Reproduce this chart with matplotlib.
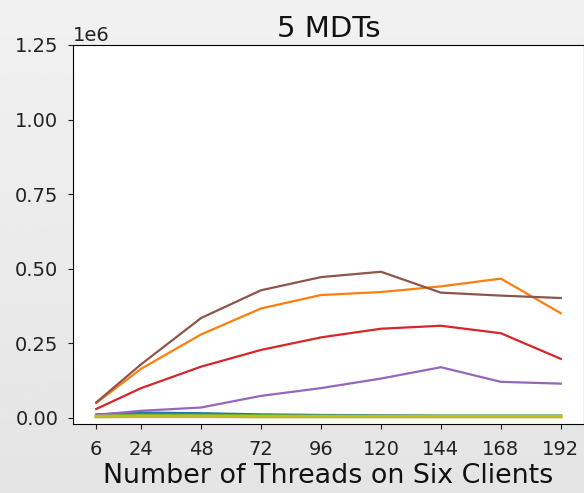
import numpy as np
import matplotlib
matplotlib.use("Agg")
import matplotlib.pyplot as plt

threads = [6, 24, 48, 72, 96, 120, 144, 168, 192]

# one series per run, tab10 colour order
s0 = [0.012, 0.018, 0.016, 0.012, 0.010, 0.009, 0.008, 0.008, 0.008]
s1 = [0.050, 0.165, 0.280, 0.367, 0.412, 0.422, 0.441, 0.467, 0.351]
s2 = [0.010, 0.013, 0.012, 0.009, 0.007, 0.006, 0.006, 0.006, 0.006]
s3 = [0.030, 0.100, 0.172, 0.228, 0.270, 0.299, 0.309, 0.284, 0.198]
s4 = [0.010, 0.024, 0.035, 0.074, 0.100, 0.132, 0.170, 0.121, 0.115]
s5 = [0.052, 0.180, 0.335, 0.428, 0.472, 0.490, 0.420, 0.410, 0.402]
s6 = [0.004, 0.005, 0.005, 0.004, 0.004, 0.004, 0.004, 0.004, 0.004]
s7 = [0.004, 0.004, 0.004, 0.004, 0.004, 0.004, 0.004, 0.004, 0.004]
s8 = [0.005, 0.006, 0.006, 0.005, 0.005, 0.005, 0.005, 0.005, 0.005]
series = [s0, s1, s2, s3, s4, s5, s6, s7, s8]

fig = plt.figure(figsize=(5.84, 4.93), dpi=100)

# light grey backdrop, a touch darker toward the bottom
bg = fig.add_axes([0, 0, 1, 1], zorder=-10)
grad = np.linspace(0.945, 0.895, 256)[:, None] * np.ones((1, 2))
bg.imshow(grad, cmap="gray", vmin=0, vmax=1, aspect="auto", extent=[0, 1, 0, 1])
bg.axis("off")

ax = fig.add_axes([73/584, 1 - 424/493, 511/584, (424 - 45)/493])
for i, s in enumerate(series):
    ax.plot(threads, np.array(s) * 1e6, color=f"C{i}",
            lw=2.6 if i == 8 else 1.6)

ax.set_ylim(top=1.25e6)
ax.set_xticks(threads)
ax.set_yticks(np.arange(0, 1.26, 0.25) * 1e6)
ax.tick_params(labelsize=14, colors="#222222")
ax.tick_params(axis="y", pad=7)
ax.tick_params(axis="x", pad=8)
ax.yaxis.get_offset_text().set_fontsize(14)
ax.set_xlabel("Number of Threads on Six Clients", fontsize=19.4, color="#111111",
              labelpad=3)
ax.set_title("5 MDTs", fontsize=21, color="#111111")

fig.savefig("out.png", dpi=100)
